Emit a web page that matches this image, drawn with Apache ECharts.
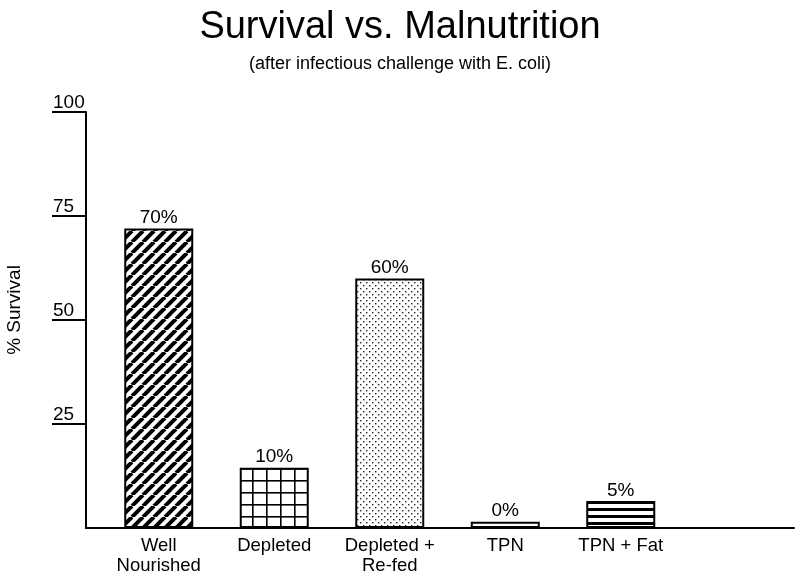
<!DOCTYPE html>
<html>
<head>
<meta charset="utf-8">
<script src="https://cdn.jsdelivr.net/npm/echarts@6/dist/echarts.min.js"></script>
<style>html,body{margin:0;padding:0;background:#fff;}#c{width:800px;height:581px;}</style>
</head>
<body>
<div id="c"></div>
<script>
// ---- data ----
var categories = ['Well\nNourished', 'Depleted', 'Depleted +\nRe-fed', 'TPN', 'TPN + Fat', ''];
var survival = [72, 14.5, 60, 1.5, 6.5];
var barLabels = ['70%', '10%', '60%', '0%', '5%'];
var yTicks = [25, 50, 75, 100];
var patternKinds = ['diagonal', 'grid', 'dots', 'none', 'hstripes'];

// ---- patterns ----
function makePattern(kind) {
  var c = document.createElement('canvas');
  var ctx;
  if (kind === 'diagonal') {
    var s = 11;
    c.width = s; c.height = s;
    ctx = c.getContext('2d');
    ctx.fillStyle = '#fff'; ctx.fillRect(0, 0, s, s);
    ctx.strokeStyle = '#000'; ctx.lineWidth = 4;
    for (var k = -1; k <= 1; k++) {
      ctx.beginPath();
      ctx.moveTo(k * s, s); ctx.lineTo(k * s + s, 0);
      ctx.stroke();
    }
  } else if (kind === 'grid') {
    c.width = 14; c.height = 12;
    ctx = c.getContext('2d');
    ctx.fillStyle = '#fff'; ctx.fillRect(0, 0, 14, 12);
    ctx.fillStyle = '#000';
    ctx.fillRect(0, 0, 14, 1.6);
    ctx.fillRect(0, 0, 1.6, 12);
  } else if (kind === 'dots') {
    c.width = 6; c.height = 6;
    ctx = c.getContext('2d');
    ctx.fillStyle = '#fff'; ctx.fillRect(0, 0, 6, 6);
    ctx.fillStyle = '#222';
    ctx.fillRect(0, 0, 1.4, 1.4);
    ctx.fillRect(3, 3, 1.4, 1.4);
  } else if (kind === 'hstripes') {
    c.width = 8; c.height = 7;
    ctx = c.getContext('2d');
    ctx.fillStyle = '#fff'; ctx.fillRect(0, 0, 8, 7);
    ctx.fillStyle = '#000';
    ctx.fillRect(0, 4, 8, 3);
  } else {
    return '#fff';
  }
  return { image: c, repeat: 'repeat' };
}

var FONT = 'Liberation Sans, Arial, sans-serif';

var barData = survival.map(function (v, i) {
  return {
    value: v,
    itemStyle: { color: makePattern(patternKinds[i]) },
    label: { formatter: barLabels[i] }
  };
});

var chart = echarts.init(document.getElementById('c'), null, { renderer: 'canvas' });
chart.setOption({
  backgroundColor: '#fff',
  animation: false,
  title: {
    text: 'Survival vs. Malnutrition',
    subtext: '(after infectious challenge with E. coli)',
    left: 'center',
    top: 4,
    itemGap: 8,
    textStyle: { fontFamily: FONT, fontSize: 38, fontWeight: 'normal', color: '#000' },
    subtextStyle: { fontFamily: FONT, fontSize: 18, color: '#000' }
  },
  grid: [
    { left: 101, right: 6, top: 112, bottom: 53, outerBoundsMode: 'none', containLabel: false },
    { left: 86, right: 6, top: 112, bottom: 53, outerBoundsMode: 'none', containLabel: false }
  ],
  xAxis: [
    {
      type: 'category', gridIndex: 0, data: categories,
      axisLine: { show: false }, axisTick: { show: false },
      axisLabel: { fontFamily: FONT, fontSize: 18.5, color: '#000', lineHeight: 20, margin: 8, interval: 0 }
    },
    {
      type: 'value', gridIndex: 1, min: 0, max: 1,
      axisLine: { show: true, lineStyle: { color: '#000', width: 2 } },
      axisTick: { show: false }, axisLabel: { show: false }, splitLine: { show: false }
    }
  ],
  yAxis: [
    { type: 'value', gridIndex: 0, min: 0, max: 100, show: false },
    {
      type: 'value', gridIndex: 1, min: 0, max: 100, interval: 25,
      name: '% Survival', nameLocation: 'middle', nameGap: 62,
      nameTextStyle: { fontFamily: FONT, fontSize: 19, color: '#000', padding: [0, 0, 0, 20] },
      axisLine: { show: true, lineStyle: { color: '#000', width: 2 } },
      axisTick: { show: true, length: 34, customValues: yTicks, lineStyle: { color: '#000', width: 2 } },
      axisLabel: {
        customValues: yTicks, fontFamily: FONT, fontSize: 19, color: '#000',
        align: 'left', verticalAlign: 'bottom', margin: 33, lineHeight: 19
      },
      splitLine: { show: false }
    }
  ],
  series: [{
    type: 'bar',
    xAxisIndex: 0, yAxisIndex: 0,
    data: barData,
    barWidth: 69,
    itemStyle: { borderColor: '#000', borderWidth: 2 },
    label: { show: true, position: 'top', distance: 1, fontFamily: FONT, fontSize: 19, color: '#000', lineHeight: 19 }
  }]
});
</script>
</body>
</html>
